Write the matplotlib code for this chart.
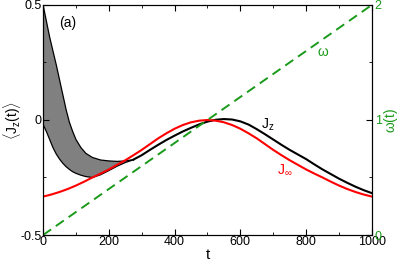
import matplotlib
matplotlib.use("Agg")
import matplotlib.pyplot as plt
from matplotlib.ticker import MultipleLocator

plt.rcParams['font.family'] = ['Liberation Sans', 'DejaVu Sans']
plt.rcParams['mathtext.fontset'] = 'custom'
plt.rcParams['mathtext.rm'] = 'Liberation Sans'
plt.rcParams['mathtext.it'] = 'Liberation Sans'

# grey band (fast oscillation of Jz), upper and lower envelopes
t_band = [0, 10, 20, 30, 40, 50, 60, 70, 80, 90, 100, 115, 130, 150, 175, 200, 225, 250, 275]
band_hi = [0.5, 0.43, 0.36, 0.30, 0.24, 0.175, 0.11, 0.045, -0.01, -0.05, -0.085, -0.12, -0.145,
           -0.163, -0.174, -0.178, -0.18, -0.178, -0.172]
band_lo = [-0.02, -0.05, -0.085, -0.12, -0.148, -0.17, -0.188, -0.203, -0.215, -0.225, -0.232, -0.24,
           -0.246, -0.25, -0.238, -0.22, -0.201, -0.185, -0.173]

# Jz after the band
t_jz = [275, 300, 325, 350, 375, 400, 425, 450, 475, 500, 525, 550, 575, 600, 625, 650, 675,
        700, 725, 750, 775, 800, 825, 850, 875, 900, 925, 950, 975, 1000]
jz = [-0.172, -0.153, -0.13, -0.108, -0.087, -0.068, -0.05, -0.034, -0.019, -0.007, 0.001, 0.004,
      0.002, -0.006, -0.02, -0.04, -0.062, -0.085, -0.108, -0.13, -0.15, -0.17, -0.193, -0.215,
      -0.235, -0.255, -0.273, -0.29, -0.305, -0.318]

# J_infinity
t_inf = [0, 25, 50, 75, 100, 125, 150, 175, 200, 225, 250, 275, 300, 325, 350, 375, 400, 425, 450,
         475, 500, 525, 550, 575, 600, 625, 650, 675, 700, 725, 750, 775, 800, 825, 850, 875, 900,
         925, 950, 975, 1000]
j_inf = [-0.333, -0.324, -0.313, -0.300, -0.285, -0.268, -0.250, -0.233, -0.215, -0.195, -0.175,
         -0.153, -0.130, -0.105, -0.080, -0.058, -0.038, -0.022, -0.010, -0.003, 0.0,
         -0.003, -0.010, -0.022, -0.038, -0.058, -0.080, -0.105, -0.130, -0.153, -0.175,
         -0.195, -0.215, -0.233, -0.250, -0.268, -0.285, -0.300, -0.313, -0.324, -0.333]

# omega(t), right axis
t_om = [0, 1000]
omega = [0, 2]

green = '#1a9a1a'

fig = plt.figure(figsize=(3.99, 2.61), dpi=100)
ax = fig.add_axes([0.108, 0.0996, 0.824, 0.8814])

ax.fill_between(t_band, band_lo, band_hi, facecolor='#808080', edgecolor='none')
ax.plot(t_band, band_hi, color='black', lw=0.9)
ax.plot(t_band, band_lo, color='black', lw=0.9)
ax.plot(t_jz, jz, color='black', lw=1.5)
ax.plot(t_inf, j_inf, color='red', lw=1.5)

ax.set_xlim(0, 1000)
ax.set_ylim(-0.5, 0.5)
ax.set_xticks([0, 200, 400, 600, 800, 1000])
ax.xaxis.set_minor_locator(MultipleLocator(100))
ax.set_yticks([-0.5, 0, 0.5])
ax.set_yticklabels(['-0.5', '0', '0.5'])
ax.yaxis.set_minor_locator(MultipleLocator(0.25))
ax.tick_params(which='both', direction='in', top=True, right=False, labelsize=9, pad=1)
ax.tick_params(which='major', length=4)
ax.tick_params(which='minor', length=2.5)
ax.set_xlabel('t', fontsize=11, labelpad=0)
ax.set_ylabel(r'$\langle$J$_z$(t)$\rangle$', fontsize=10, labelpad=-2)

ax2 = ax.twinx()
ax2.plot(t_om, omega, color=green, lw=1.4, dashes=(5, 3))
ax2.set_ylim(0, 2)
ax2.set_yticks([0, 1, 2])
ax2.yaxis.set_minor_locator(MultipleLocator(0.5))
ax2.tick_params(which='both', direction='in', labelsize=9, labelcolor=green, pad=2)
ax2.tick_params(which='major', length=4)
ax2.tick_params(which='minor', length=2.5)
ax2.set_ylabel(r'$\omega$(t)', color=green, fontsize=10, labelpad=0)

ax.text(76, 0.42, '(a)', fontsize=10, ha='center', va='center')
ax.text(684, -0.02, r'J$_z$', fontsize=10, ha='center', va='center')
ax.text(735, -0.217, r'J$_\infty$', fontsize=10, ha='center', va='center', color='red')
ax2.text(851, 1.59, r'$\omega$', fontsize=10, ha='center', va='center', color=green)

fig.savefig('out.png', dpi=100)
